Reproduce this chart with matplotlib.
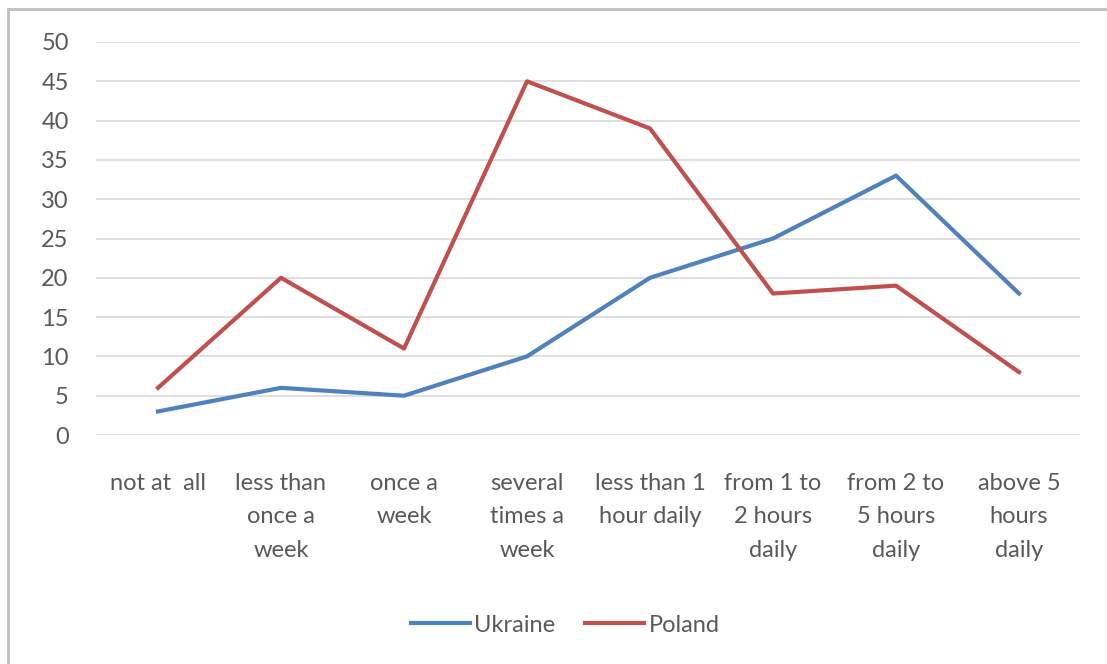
import matplotlib.pyplot as plt
from matplotlib.lines import Line2D

#################### Data

categories = ['not at  all', 'less than\nonce a\nweek', 'once a\nweek',
              'several\ntimes a\nweek', 'less than 1\nhour daily',
              'from 1 to\n2 hours\ndaily', 'from 2 to\n5 hours\ndaily',
              'above 5\nhours\ndaily']
ukraine = [3, 6, 5, 10, 20, 25, 33, 18]
poland = [6, 20, 11, 45, 39, 18, 19, 8]

#################### Style

color_ukraine = '#4F81BD'
color_poland = '#C0504D'
color_text = '#595959'
color_grid = '#D9D9D9'
color_frame = '#BFBFBF'
fs = 17

plt.rcParams['font.family'] = ['Lato', 'DejaVu Sans']

W, H = 1107, 664
fig = plt.figure(figsize=(W / 100, H / 100), dpi=100)

left, right = 96.5, 1080.5
top, bottom = 42, 435
ax = fig.add_axes((left / W, 1 - bottom / H, (right - left) / W, (bottom - top) / H))

x = list(range(len(categories)))
ax.plot(x, ukraine, color=color_ukraine, lw=3, solid_joinstyle='round', zorder=3)
ax.plot(x, poland, color=color_poland, lw=3, solid_joinstyle='round', zorder=3)

ax.set_xlim(-0.5, len(categories) - 0.5)
ax.set_ylim(0, 50)
ax.set_yticks(range(0, 51, 5))
ax.yaxis.grid(True, color=color_grid, lw=1.2)
ax.set_axisbelow(True)
for s in ax.spines.values():
    s.set_visible(False)

ax.tick_params(axis='y', length=0, pad=20, labelsize=fs, labelcolor=color_text)
ax.set_xticks(x)
ax.set_xticklabels(categories, fontsize=fs, color=color_text, linespacing=1.75)
ax.tick_params(axis='x', length=0, pad=27)

# frame (only left and top edges visible in the original crop)
fig.add_artist(Line2D([8 / W, 8 / W], [0, 1 - 9 / H], color=color_frame, lw=2))
fig.add_artist(Line2D([8 / W, 1], [1 - 9 / H, 1 - 9 / H], color=color_frame, lw=2))

handles = [Line2D([], [], color=color_ukraine, lw=3), Line2D([], [], color=color_poland, lw=3)]
fig.legend(handles, ['Ukraine', 'Poland'], loc='center', bbox_to_anchor=(565 / W, 1 - 625 / H),
           ncol=2, frameon=False, fontsize=fs, labelcolor=color_text,
           handlelength=2.5, handletextpad=0.17, columnspacing=1.3)

plt.savefig('out.png', dpi=100)
